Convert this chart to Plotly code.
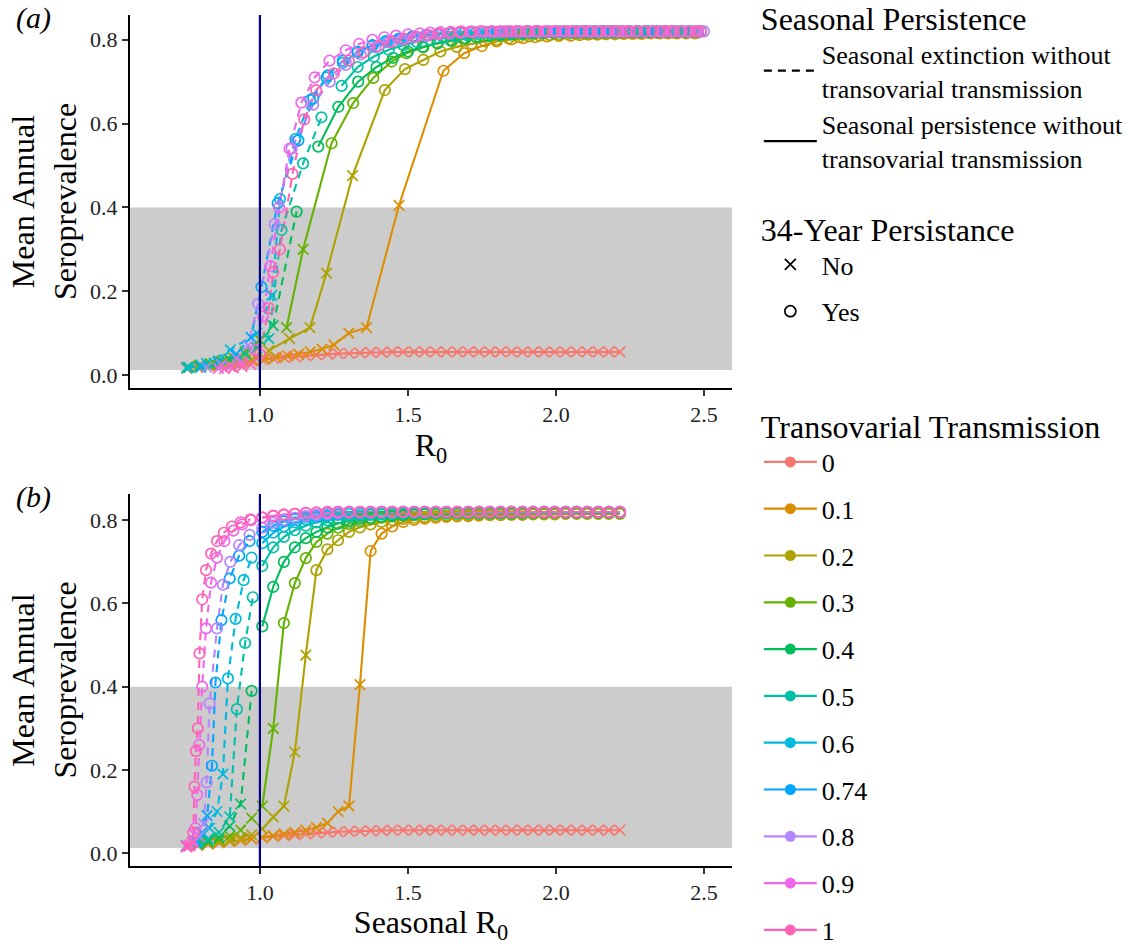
import plotly.graph_objects as go

FONT = "Liberation Serif, Times New Roman, serif"

# ---------------- data ----------------
trans_levels = ["0", "0.1", "0.2", "0.3", "0.4", "0.5", "0.6", "0.74", "0.8", "0.9", "1"]
level_colors = ["#F8766D", "#DB8E00", "#AEA200", "#64B200", "#00BD5C", "#00C1A7",
                "#00BADE", "#00A6FF", "#B385FF", "#EF67EB", "#FF63B6"]
x_ticks = [1.0, 1.5, 2.0, 2.5]
y_ticks = [0.0, 0.2, 0.4, 0.6, 0.8]
band_low, band_high = 0.012, 0.40
r0_threshold = 1.0

# seasonal R0 grid shared by the low-transovarial runs
seasonal_r0_grid = [0.752, 0.789, 0.825, 0.862, 0.898, 0.935, 0.972,
                    1.008, 1.045, 1.081, 1.118, 1.155, 1.191, 1.228, 1.264, 1.301, 1.338, 1.374,
                    1.411, 1.447, 1.484, 1.521, 1.557, 1.594, 1.630, 1.667, 1.704, 1.740, 1.777,
                    1.813, 1.850, 1.887, 1.923, 1.960, 1.996, 2.033, 2.070, 2.106, 2.143, 2.179, 2.216]
seasonal_r0_tail = [1.008, 1.045, 1.081, 1.118, 1.155, 1.191, 1.228, 1.264, 1.301, 1.338, 1.374,
                    1.411, 1.447, 1.484, 1.521, 1.557, 1.594, 1.630, 1.667, 1.704, 1.740, 1.777,
                    1.813, 1.850, 1.887, 1.923, 1.960, 1.996, 2.033, 2.070, 2.106, 2.143, 2.179, 2.216]

# transovarial 0
sr0_00 = seasonal_r0_grid
r0_00 = seasonal_r0_grid
prev_00 = [0.016, 0.019, 0.022, 0.025, 0.028, 0.031, 0.034, 0.037, 0.040, 0.042, 0.044, 0.046, 0.048,
           0.050, 0.051, 0.052, 0.053, 0.054, 0.054, 0.055, 0.055, 0.055, 0.055, 0.055, 0.055, 0.055,
           0.055, 0.055, 0.055, 0.055, 0.055, 0.055, 0.055, 0.055, 0.055, 0.055, 0.055, 0.055, 0.055,
           0.055, 0.055]
# transovarial 0.1
sr0_01 = seasonal_r0_grid
r0_01 = [0.755, 0.792, 0.829, 0.866, 0.903, 0.941, 0.979, 1.017, 1.055, 1.093, 1.131, 1.170, 1.210,
         1.250, 1.300, 1.360, 1.470, 1.620, 1.690, 1.750, 1.800, 1.850, 1.890, 1.930, 1.970, 2.010,
         2.050, 2.080, 2.110, 2.140, 2.170, 2.200, 2.230, 2.260, 2.290, 2.320, 2.350, 2.380, 2.410,
         2.440, 2.470]
prev_01 = [0.017, 0.019, 0.022, 0.025, 0.028, 0.031, 0.034, 0.038, 0.042, 0.046, 0.050, 0.055, 0.062,
           0.072, 0.100, 0.113, 0.405, 0.726, 0.768, 0.785, 0.796, 0.801, 0.804, 0.806, 0.808, 0.809,
           0.810, 0.811, 0.812, 0.812, 0.813, 0.813, 0.814, 0.814, 0.814, 0.815, 0.815, 0.815, 0.815,
           0.815, 0.815]
# transovarial 0.2
sr0_02 = seasonal_r0_grid
r0_02 = [0.755, 0.793, 0.830, 0.868, 0.905, 0.943, 0.982, 1.030, 1.100, 1.169, 1.225, 1.313, 1.422,
         1.490, 1.552, 1.610, 1.665, 1.715, 1.760, 1.800, 1.840, 1.875, 1.910, 1.945, 1.980, 2.010,
         2.040, 2.070, 2.100, 2.130, 2.160, 2.190, 2.220, 2.250, 2.280, 2.310, 2.340, 2.370, 2.400,
         2.440, 2.470]
prev_02 = [0.018, 0.021, 0.024, 0.028, 0.032, 0.037, 0.044, 0.058, 0.087, 0.113, 0.243, 0.476, 0.680,
           0.730, 0.752, 0.772, 0.783, 0.790, 0.796, 0.800, 0.803, 0.806, 0.808, 0.810, 0.811, 0.812,
           0.813, 0.814, 0.814, 0.815, 0.815, 0.816, 0.816, 0.816, 0.816, 0.817, 0.817, 0.817, 0.817,
           0.817, 0.817]
# transovarial 0.3
sr0_03 = seasonal_r0_grid
r0_03 = [0.757, 0.795, 0.833, 0.872, 0.910, 0.950, 1.000, 1.090, 1.146, 1.242, 1.315, 1.383, 1.445,
         1.495, 1.552, 1.600, 1.650, 1.695, 1.740, 1.780, 1.820, 1.860, 1.895, 1.930, 1.965, 2.000,
         2.030, 2.060, 2.090, 2.120, 2.150, 2.180, 2.210, 2.240, 2.270, 2.300, 2.330, 2.360, 2.400,
         2.440, 2.480]
prev_03 = [0.018, 0.022, 0.027, 0.033, 0.041, 0.055, 0.084, 0.113, 0.300, 0.553, 0.649, 0.709, 0.748,
           0.768, 0.782, 0.791, 0.798, 0.803, 0.806, 0.809, 0.811, 0.813, 0.814, 0.815, 0.816, 0.816,
           0.817, 0.817, 0.817, 0.817, 0.817, 0.817, 0.817, 0.818, 0.818, 0.818, 0.818, 0.818, 0.818,
           0.818, 0.818]
# transovarial 0.4
sr0_04 = seasonal_r0_grid
r0_04 = [0.760, 0.800, 0.845, 0.895, 0.990, 1.045, 1.124, 1.197, 1.265, 1.332, 1.394, 1.450, 1.500,
         1.550, 1.600, 1.645, 1.690, 1.730, 1.770, 1.810, 1.850, 1.885, 1.920, 1.955, 1.990, 2.020,
         2.050, 2.080, 2.110, 2.140, 2.170, 2.200, 2.230, 2.260, 2.290, 2.320, 2.350, 2.380, 2.410,
         2.450, 2.480]
prev_04 = [0.018, 0.022, 0.028, 0.038, 0.065, 0.118, 0.390, 0.545, 0.640, 0.700, 0.735, 0.757, 0.772,
           0.783, 0.792, 0.798, 0.803, 0.806, 0.809, 0.811, 0.813, 0.814, 0.815, 0.816, 0.817, 0.817,
           0.817, 0.817, 0.817, 0.817, 0.817, 0.817, 0.818, 0.818, 0.818, 0.818, 0.818, 0.818, 0.818,
           0.818, 0.818]
# transovarial 0.5
sr0_05 = [0.752, 0.789, 0.825, 0.862, 0.898, 0.922, 0.950, 0.976] + seasonal_r0_tail
r0_05 = [0.752, 0.800, 0.860, 0.950, 1.030, 1.073, 1.146, 1.208, 1.276, 1.330, 1.385, 1.435, 1.485,
         1.530, 1.575, 1.620, 1.660, 1.700, 1.740, 1.780, 1.815, 1.850, 1.885, 1.920, 1.955, 1.990,
         2.020, 2.050, 2.080, 2.110, 2.140, 2.170, 2.200, 2.230, 2.260, 2.290, 2.320, 2.350, 2.380,
         2.410, 2.445, 2.480]
prev_05 = [0.018, 0.024, 0.034, 0.050, 0.087, 0.346, 0.505, 0.615, 0.690, 0.735, 0.760, 0.776, 0.787,
           0.795, 0.800, 0.805, 0.808, 0.811, 0.813, 0.814, 0.815, 0.816, 0.817, 0.817, 0.818, 0.818,
           0.818, 0.818, 0.818, 0.818, 0.818, 0.819, 0.819, 0.819, 0.819, 0.819, 0.819, 0.819, 0.819,
           0.819, 0.819, 0.819]
# transovarial 0.6
sr0_06 = [0.752, 0.790, 0.830, 0.855, 0.875, 0.892, 0.918, 0.945, 0.972] + seasonal_r0_tail
r0_06 = [0.760, 0.820, 0.900, 0.990, 1.040, 1.068, 1.120, 1.170, 1.225, 1.280, 1.330, 1.380, 1.430,
         1.475, 1.520, 1.565, 1.610, 1.650, 1.690, 1.730, 1.770, 1.805, 1.840, 1.875, 1.910, 1.945,
         1.980, 2.010, 2.040, 2.070, 2.100, 2.130, 2.160, 2.190, 2.220, 2.250, 2.280, 2.310, 2.340,
         2.370, 2.410, 2.445, 2.480]
prev_06 = [0.018, 0.028, 0.060, 0.100, 0.190, 0.420, 0.563, 0.656, 0.710, 0.745, 0.770, 0.785, 0.795,
           0.802, 0.807, 0.810, 0.813, 0.815, 0.816, 0.817, 0.818, 0.818, 0.819, 0.819, 0.819, 0.819,
           0.819, 0.819, 0.819, 0.820, 0.820, 0.820, 0.820, 0.820, 0.820, 0.820, 0.820, 0.820, 0.820,
           0.820, 0.820, 0.820, 0.820]
# transovarial 0.74
sr0_07 = [0.752, 0.780, 0.805, 0.822, 0.838, 0.850, 0.870, 0.898, 0.930, 0.965] + seasonal_r0_tail
r0_07 = [0.800, 0.860, 0.920, 0.970, 1.005, 1.060, 1.130, 1.180, 1.230, 1.280, 1.330, 1.380, 1.425,
         1.470, 1.515, 1.560, 1.600, 1.640, 1.680, 1.720, 1.760, 1.800, 1.835, 1.870, 1.905, 1.940,
         1.975, 2.010, 2.040, 2.070, 2.100, 2.130, 2.160, 2.190, 2.220, 2.250, 2.280, 2.310, 2.340,
         2.370, 2.400, 2.430, 2.460, 2.490]
prev_07 = [0.018, 0.030, 0.050, 0.090, 0.210, 0.410, 0.560, 0.660, 0.715, 0.750, 0.772, 0.787, 0.797,
           0.803, 0.808, 0.811, 0.814, 0.816, 0.817, 0.818, 0.819, 0.819, 0.819, 0.820, 0.820, 0.820,
           0.820, 0.820, 0.820, 0.820, 0.820, 0.820, 0.820, 0.820, 0.820, 0.820, 0.820, 0.820, 0.820,
           0.820, 0.820, 0.820, 0.820, 0.820]
# transovarial 0.8
sr0_08 = [0.752, 0.775, 0.795, 0.810, 0.820, 0.830, 0.855, 0.875, 0.900, 0.930, 0.965] + seasonal_r0_tail
r0_08 = [0.820, 0.870, 0.920, 0.960, 0.994, 1.050, 1.107, 1.180, 1.236, 1.290, 1.340, 1.390, 1.435,
         1.480, 1.520, 1.560, 1.600, 1.640, 1.680, 1.720, 1.760, 1.795, 1.830, 1.865, 1.900, 1.935,
         1.970, 2.000, 2.030, 2.060, 2.090, 2.120, 2.150, 2.180, 2.210, 2.240, 2.270, 2.300, 2.330,
         2.360, 2.390, 2.420, 2.450, 2.475, 2.500]
prev_08 = [0.018, 0.025, 0.040, 0.070, 0.170, 0.360, 0.540, 0.645, 0.700, 0.740, 0.765, 0.782, 0.794,
           0.801, 0.806, 0.810, 0.813, 0.815, 0.817, 0.818, 0.819, 0.819, 0.820, 0.820, 0.820, 0.820,
           0.820, 0.820, 0.820, 0.820, 0.820, 0.820, 0.820, 0.820, 0.820, 0.820, 0.820, 0.820, 0.820,
           0.820, 0.820, 0.820, 0.820, 0.820, 0.820]
# transovarial 0.9
sr0_09 = [0.752, 0.765, 0.775, 0.782, 0.788, 0.795, 0.805, 0.818, 0.835, 0.855, 0.880, 0.910, 0.940,
          0.970] + seasonal_r0_tail
r0_09 = [0.860, 0.900, 0.940, 0.985, 1.010, 1.035, 1.065, 1.100, 1.140, 1.185, 1.235, 1.290, 1.335,
         1.380, 1.420, 1.460, 1.500, 1.540, 1.575, 1.610, 1.645, 1.680, 1.715, 1.750, 1.785, 1.820,
         1.850, 1.880, 1.910, 1.940, 1.970, 2.000, 2.030, 2.060, 2.090, 2.120, 2.150, 2.180, 2.210,
         2.240, 2.270, 2.300, 2.330, 2.360, 2.390, 2.420, 2.450, 2.480]
prev_09 = [0.016, 0.020, 0.030, 0.060, 0.140, 0.260, 0.400, 0.540, 0.650, 0.710, 0.750, 0.775, 0.790,
           0.800, 0.806, 0.810, 0.813, 0.815, 0.817, 0.818, 0.819, 0.820, 0.820, 0.820, 0.820, 0.820,
           0.820, 0.820, 0.820, 0.820, 0.820, 0.820, 0.820, 0.820, 0.820, 0.820, 0.820, 0.820, 0.820,
           0.820, 0.820, 0.820, 0.820, 0.820, 0.820, 0.820, 0.820, 0.820]
# transovarial 1
sr0_10 = [0.752, 0.760, 0.766, 0.771, 0.775, 0.779, 0.784, 0.790, 0.796, 0.805, 0.818, 0.835, 0.855,
          0.878, 0.905, 0.935, 0.968] + seasonal_r0_tail
r0_10 = [0.880, 0.910, 0.940, 0.970, 1.000, 1.030, 1.045, 1.068, 1.110, 1.150, 1.190, 1.250, 1.300,
         1.350, 1.400, 1.445, 1.490, 1.530, 1.570, 1.605, 1.640, 1.675, 1.710, 1.745, 1.780, 1.810,
         1.840, 1.870, 1.900, 1.930, 1.960, 1.990, 2.020, 2.050, 2.080, 2.110, 2.140, 2.170, 2.200,
         2.225, 2.250, 2.275, 2.300, 2.325, 2.350, 2.375, 2.400, 2.425, 2.450, 2.470, 2.490]
prev_10 = [0.015, 0.017, 0.020, 0.025, 0.050, 0.160, 0.245, 0.300, 0.480, 0.610, 0.680, 0.720, 0.750,
           0.770, 0.785, 0.795, 0.802, 0.807, 0.811, 0.814, 0.816, 0.818, 0.819, 0.820, 0.820, 0.820,
           0.820, 0.820, 0.820, 0.820, 0.820, 0.820, 0.820, 0.820, 0.820, 0.820, 0.820, 0.820, 0.820,
           0.820, 0.820, 0.820, 0.820, 0.820, 0.820, 0.820, 0.820, 0.820, 0.820, 0.820, 0.820]

# index of first run that persisted for 34 years (None = never)
persist_from = [None, 17, 12, 9, 6, 5, 5, 4, 4, 3, 4]

seasonal_r0 = [sr0_00, sr0_01, sr0_02, sr0_03, sr0_04, sr0_05, sr0_06, sr0_07, sr0_08, sr0_09, sr0_10]
r0 = [r0_00, r0_01, r0_02, r0_03, r0_04, r0_05, r0_06, r0_07, r0_08, r0_09, r0_10]
prevalence = [prev_00, prev_01, prev_02, prev_03, prev_04, prev_05, prev_06, prev_07, prev_08, prev_09, prev_10]

for k in range(len(trans_levels)):
    assert len(seasonal_r0[k]) == len(r0[k]) == len(prevalence[k]), k

# ---------------- figure ----------------
fig = go.Figure()
DASH = "8px,6px"
LW = 2.1

panels = [("x", "y", r0), ("x2", "y2", seasonal_r0)]

for xa, ya, xsrc in panels:
    # lines (separate groups for dashed/solid linetype)
    for k, col in enumerate(level_colors):
        xs, sr, ys = xsrc[k], seasonal_r0[k], prevalence[k]
        dashed = [i for i in range(len(ys)) if sr[i] < r0_threshold]
        solid = [i for i in range(len(ys)) if sr[i] >= r0_threshold]
        for idx, dash in ((dashed, DASH), (solid, "solid")):
            if len(idx) < 2:
                continue
            fig.add_trace(go.Scatter(
                x=[xs[i] for i in idx], y=[ys[i] for i in idx], mode="lines",
                line=dict(color=col, width=LW, dash=dash),
                xaxis=xa, yaxis=ya, showlegend=False, hoverinfo="skip"))
    # points
    for k, col in enumerate(level_colors):
        xs, ys = xsrc[k], prevalence[k]
        pf = persist_from[k]
        syms = ["circle-open" if (pf is not None and i >= pf) else "x-thin-open" for i in range(len(ys))]
        fig.add_trace(go.Scatter(
            x=xs, y=ys, mode="markers",
            marker=dict(symbol=syms, size=10.5, color=col, line=dict(color=col, width=1.7)),
            xaxis=xa, yaxis=ya, showlegend=False, hoverinfo="skip"))

# ---------------- legends ----------------
fig.add_trace(go.Scatter(x=[None], y=[None], mode="lines", line=dict(color="black", width=2.2, dash=DASH),
                         name="Seasonal extinction without<br>transovarial transmission",
                         legend="legend", legendgroup="sp1"))
fig.add_trace(go.Scatter(x=[None], y=[None], mode="lines", line=dict(color="black", width=2.2),
                         name="Seasonal persistence without<br>transovarial transmission",
                         legend="legend", legendgroup="sp2"))
fig.add_trace(go.Scatter(x=[None], y=[None], mode="markers",
                         marker=dict(symbol="x-thin-open", size=11, color="black", line=dict(color="black", width=1.7)),
                         name="No", legend="legend2", legendgroup="p1"))
fig.add_trace(go.Scatter(x=[None], y=[None], mode="markers",
                         marker=dict(symbol="circle-open", size=11, color="black", line=dict(color="black", width=1.7)),
                         name="Yes", legend="legend2", legendgroup="p2"))
for k, (lev, col) in enumerate(zip(trans_levels, level_colors)):
    fig.add_trace(go.Scatter(x=[None], y=[None], mode="lines+markers",
                             line=dict(color=col, width=2.2), marker=dict(symbol="circle", size=11, color=col),
                             name=lev, legend="legend3", legendgroup="t%d" % k))

leg_font = dict(family=FONT, size=26, color="black")
leg_title_font = dict(family=FONT, size=32, color="black")
common_leg = dict(bgcolor="rgba(0,0,0,0)", borderwidth=0, font=leg_font, xanchor="left",
                  yanchor="top", traceorder="grouped", itemclick=False, itemwidth=53)

axis_common = dict(showline=True, linecolor="black", linewidth=2, ticks="outside", ticklen=6,
                   tickwidth=1.5, tickcolor="#333333", showgrid=False, zeroline=False,
                   tickfont=dict(family=FONT, size=22, color="#222222"), automargin=False)
title_font = dict(family=FONT, size=32, color="black")

fig.update_layout(
    width=1136, height=945, margin=dict(l=0, r=0, t=0, b=0, autoexpand=False),
    paper_bgcolor="white", plot_bgcolor="white",
    font=dict(family=FONT, size=22, color="black"),
    xaxis=dict(domain=[0.1144, 0.6444], range=[0.561, 2.595], anchor="y", tickvals=x_ticks, tickformat=".1f",
               title=dict(text="R<sub>0</sub>", font=title_font, standoff=0), **axis_common),
    yaxis=dict(domain=[0.5894, 0.9841], range=[-0.031, 0.859], anchor="x", tickvals=y_ticks, tickformat=".1f",
               title=dict(text="Mean Annual<br>Seroprevalence", font=title_font, standoff=4),
               **axis_common),
    xaxis2=dict(domain=[0.1144, 0.6444], range=[0.561, 2.595], anchor="y2", tickvals=x_ticks, tickformat=".1f",
                title=dict(text="Seasonal R<sub>0</sub>", font=title_font, standoff=0),
                **axis_common),
    yaxis2=dict(domain=[0.0836, 0.4772], range=[-0.031, 0.863], anchor="x2", tickvals=y_ticks, tickformat=".1f",
                title=dict(text="Mean Annual<br>Seroprevalence", font=title_font, standoff=4),
                **axis_common),
    legend=dict(x=0.668, y=1.012, title=dict(text="Seasonal Persistence", font=leg_title_font),
                tracegroupgap=0, **common_leg),
    legend2=dict(x=0.668, y=0.789, title=dict(text="34-Year Persistance", font=leg_title_font),
                 tracegroupgap=10, **common_leg),
    legend3=dict(x=0.668, y=0.58, title=dict(text="Transovarial Transmission", font=leg_title_font),
                 tracegroupgap=10, **common_leg),
)

# grey reference band and R0 = 1 line
for xref, yref in (("x", "y"), ("x2", "y2")):
    fig.add_shape(type="rect", xref=xref + " domain", yref=yref, x0=0, x1=1, y0=band_low, y1=band_high,
                  fillcolor="#CCCCCC", line=dict(width=0), layer="below")
    fig.add_shape(type="line", xref=xref, yref=yref + " domain", x0=r0_threshold, x1=r0_threshold, y0=0, y1=1,
                  line=dict(color="#00008B", width=2.2), layer="above")

fig.add_annotation(text="<i>(a)</i>", xref="paper", yref="paper", x=0.012, y=0.981, xanchor="left",
                   yanchor="middle", showarrow=False, font=dict(family=FONT, size=30, color="black"))
fig.add_annotation(text="<i>(b)</i>", xref="paper", yref="paper", x=0.012, y=0.474, xanchor="left",
                   yanchor="middle", showarrow=False, font=dict(family=FONT, size=30, color="black"))

fig.write_html("out.html")
